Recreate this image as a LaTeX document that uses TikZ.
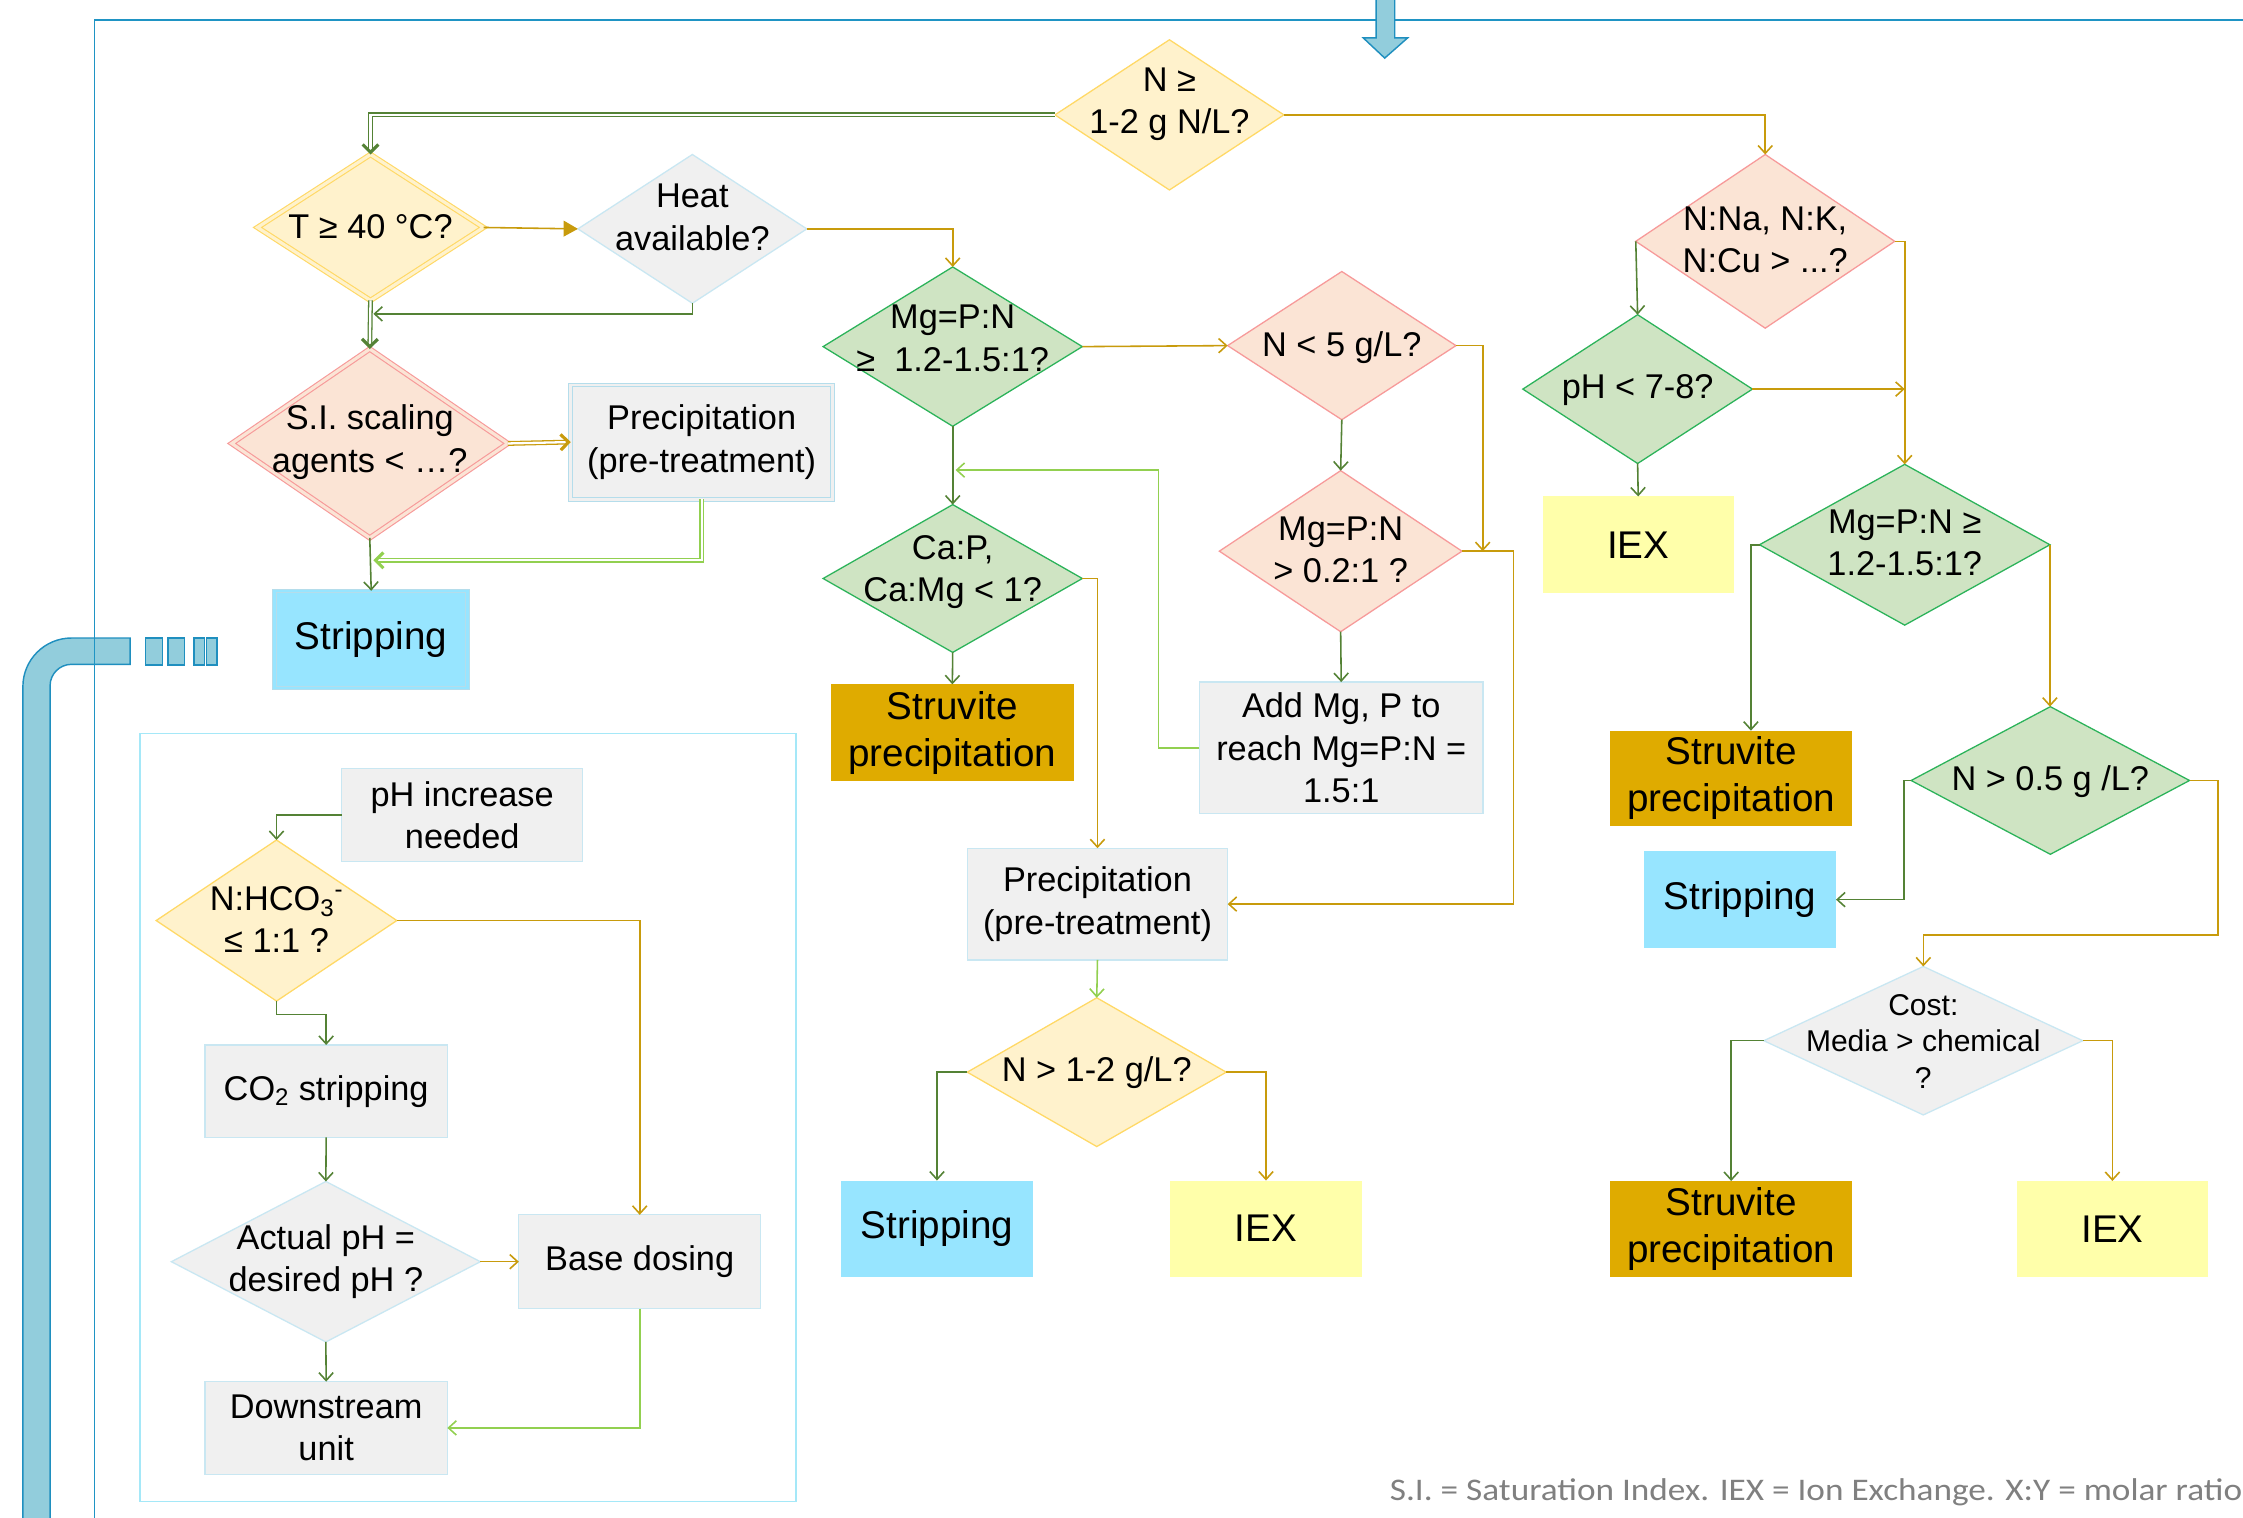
\documentclass[tikz,border=0pt]{standalone}
\usepackage{fontspec}
\setmainfont{Liberation Sans}
\newfontfamily\calfont[FakeStretch=1.12]{Carlito}
\usetikzlibrary{shapes.geometric,arrows.meta,calc}
\definecolor{framec}{HTML}{1F94C4}
\definecolor{pipef}{HTML}{92CDDC}
\definecolor{pipel}{HTML}{1F8FBF}
\definecolor{yelf}{HTML}{FFF2CC}
\definecolor{yell}{HTML}{FFD966}
\definecolor{pinkf}{HTML}{FBE4D5}
\definecolor{pinkl}{HTML}{F79A9A}
\definecolor{grnf}{HTML}{CFE4C3}
\definecolor{grnl}{HTML}{2CB35A}
\definecolor{grayf}{HTML}{F0F0F0}
\definecolor{grayl}{HTML}{C9E7F2}
\definecolor{dbll}{HTML}{B5DDEB}
\definecolor{stripf}{HTML}{97E5FF}
\definecolor{iexf}{HTML}{FFFFAA}
\definecolor{struvf}{HTML}{DFAB00}
\definecolor{cdg}{HTML}{548235}
\definecolor{cgold}{HTML}{C89B0C}
\definecolor{clg}{HTML}{92D050}
\definecolor{insetl}{HTML}{A5E8F8}
\definecolor{footc}{HTML}{808080}
\newcommand\fsz[2]{\fontsize{#1}{#2}\selectfont}
\begin{document}
\begin{tikzpicture}[x=1pt,y=-1pt,
  every node/.style={inner sep=0pt,outer sep=0pt},
  dia/.style={diamond,draw,line width=0.9pt},
  dt/.style={align=center,font=\fsz{24}{29.5}},
  box/.style={rectangle,draw=grayl,fill=grayf,line width=0.8pt,align=center,font=\fsz{24}{29.5}},
  term/.style={rectangle,align=center,font=\fsz{27}{33}},
  stripbox/.style={term,fill=stripf},
  iexbox/.style={term,fill=iexf},
  struvbox/.style={term,fill=struvf},
  cn/.style={line width=1.1pt,-{Straight Barb[length=5.5pt,width=10pt]}},
  dg/.style={cn,draw=cdg},
  go/.style={cn,draw=cgold},
  lg/.style={cn,draw=clg},
  dbl/.style={line width=0.9pt,double=white,double distance=1.6pt,-{Straight Barb[length=5.5pt,width=11pt,line width=2.2pt]}}
]
\useasboundingbox (0,0) rectangle (1568,1061);
\fill[white] (0,0) rectangle (1568,1061);

% pipe decoration
\filldraw[fill=pipef,draw=pipel,line width=1pt] (16,1070) [rounded corners=34]-- (16,446) [sharp corners]-- (91,446) -- (91,464.4) [rounded corners=15]-- (35,464.4) [sharp corners]-- (35,1070) -- cycle;
\filldraw[fill=pipef,draw=pipel,line width=1pt] (101.6,446) rectangle (113.7,465);
\filldraw[fill=pipef,draw=pipel,line width=1pt] (117.5,446) rectangle (128.9,465);
\filldraw[fill=pipef,draw=pipel,line width=1pt] (135.5,446) rectangle (142.8,465);
\filldraw[fill=pipef,draw=pipel,line width=1pt] (144.5,446) rectangle (151.7,465);

% frame
\draw[framec,line width=1pt] (1570,14) -- (66,14) -- (66,1070);
\filldraw[fill=pipef,draw=pipel,line width=1pt] (962,-3) -- (962,26.5) -- (953,26.5) -- (968,40.6) -- (984,26.5) -- (975,26.5) -- (975,-3) -- cycle;

% inset frame
\node[draw=insetl,line width=0.9pt,minimum width=458.6,minimum height=537] (inset) at (327.1,781.2) {};

% diamonds
\node[dia,fill=yelf,draw=yell,minimum width=160,minimum height=105] (n1) at (817.5,80.3) {};
\node[dt] (n1t) at (817.5,73) {N ≥\\1-2 g N/L?};

\node[dia,fill=yelf,draw=yell,double=yelf,double distance=2.2pt,line width=0.8pt,minimum width=158,minimum height=102] (t40) at (259,159) {};
\node[dt] (t40t) at (259,158.5) {T ≥ 40 °C?};

\node[dia,fill=grayf,draw=grayl,minimum width=160,minimum height=104] (heat) at (484,160) {};
\node[dt] (heatt) at (484,152) {Heat\\available?};

\node[dia,fill=pinkf,draw=pinkl,double=pinkf,double distance=2.2pt,line width=0.8pt,minimum width=193,minimum height=132] (si) at (258.5,310) {};
\node[dt] (sit) at (258.5,309) {S.I. scaling\\agents < …?};

\node[dia,fill=grnf,draw=grnl,minimum width=181.2,minimum height=111.4] (mg1) at (666,242.3) {};
\node[dt] (mg1t) at (666,236.5) {Mg=P:N\\≥\ \ 1.2-1.5:1?};

\node[dia,fill=pinkf,draw=pinkl,minimum width=159.6,minimum height=103.6] (n5) at (938,241.6) {};
\node[dt] (n5t) at (938,243) {N < 5 g/L?};

\node[dia,fill=pinkf,draw=pinkl,minimum width=169.6,minimum height=112.6] (mg2) at (937.2,385.3) {};
\node[dt] (mg2t) at (937.2,384.5) {Mg=P:N\\> 0.2:1 ?};

\node[dia,fill=grnf,draw=grnl,minimum width=181.2,minimum height=103.3] (ca) at (666,404.4) {};
\node[dt] (cat) at (666,400) {Ca:P,\\Ca:Mg < 1?};

\node[dia,fill=yelf,draw=yell,minimum width=181,minimum height=104] (n12) at (766.7,749.5) {};
\node[dt] (n12t) at (766.7,749.5) {N > 1-2 g/L?};

\node[dia,fill=pinkf,draw=pinkl,minimum width=181,minimum height=121.4] (nna) at (1234,168.7) {};
\node[dt] (nnat) at (1234,167.5) {N:Na, N:K,\\N:Cu > ...?};

\node[dia,fill=grnf,draw=grnl,minimum width=160.5,minimum height=104] (ph) at (1144.8,272) {};
\node[dt] (pht) at (1144.8,273) {pH < 7-8?};

\node[dia,fill=grnf,draw=grnl,minimum width=203,minimum height=112.4] (mg3) at (1331.5,380.8) {};
\node[dt] (mg3t) at (1331.5,379.5) {Mg=P:N ≥\\1.2-1.5:1?};

\node[dia,fill=grnf,draw=grnl,minimum width=194.6,minimum height=103.2] (n05) at (1433.3,545.6) {};
\node[dt] (n05t) at (1433.3,546.5) {N > 0.5 g /L?};

\node[dia,fill=grayf,draw=grayl,minimum width=223,minimum height=103.8] (cost) at (1344.5,727.5) {};
\node[dt,font=\fsz{21}{25.5}] (costt) at (1344.5,728) {Cost:\\Media > chemical\\?};

\node[dia,fill=yelf,draw=yell,minimum width=168.2,minimum height=112.6] (nh) at (193.3,643.5) {};
\node[dt] (nht) at (193.3,643) {N:HCO\textsubscript{3}\textsuperscript{-}\\≤ 1:1 ?};

\node[dia,fill=grayf,draw=grayl,minimum width=216,minimum height=112.2] (actual) at (227.8,882) {};
\node[dt] (actualt) at (227.8,882) {Actual pH =\\desired pH ?};

% boxes
\node[box,draw=dbll,double=grayf,double distance=1.8pt,line width=0.7pt,minimum width=183,minimum height=80] (pre1) at (490.5,309) {Precipitation\\(pre-treatment)};
\node[stripbox,draw=dbll,double=stripf,double distance=1.8pt,line width=0.7pt,minimum width=135,minimum height=68] (strip1) at (259.5,447) {Stripping};
\node[struvbox,minimum width=169.5,minimum height=67.6] (struv1) at (665.75,512.2) {Struvite\\precipitation};
\node[box,minimum width=198.2,minimum height=91.8] (addmg) at (937.6,522.7) {Add Mg, P to\\reach Mg=P:N =\\1.5:1};
\node[box,minimum width=182,minimum height=78.1] (pre2) at (767.2,632) {Precipitation\\(pre-treatment)};
\node[stripbox,minimum width=134.1,minimum height=67.3] (strip2) at (655,858.9) {Stripping};
\node[iexbox,minimum width=134,minimum height=67.3] (iex2) at (885,858.9) {IEX};
\node[iexbox,minimum width=133.6,minimum height=67.5] (iex1) at (1145.2,380.8) {IEX};
\node[struvbox,minimum width=169.3,minimum height=66.6] (struv2) at (1210.2,544.1) {Struvite\\precipitation};
\node[stripbox,minimum width=134.2,minimum height=67.4] (strip3) at (1216.4,628.9) {Stripping};
\node[struvbox,minimum width=169.3,minimum height=66.8] (struv3) at (1210.2,859) {Struvite\\precipitation};
\node[iexbox,minimum width=133.9,minimum height=66.8] (iex3) at (1476.7,859) {IEX};

\node[box,minimum width=168.6,minimum height=65.1] (phinc) at (323.1,569.9) {pH increase\\needed};
\node[box,minimum width=169.4,minimum height=64.6] (co2) at (228,762.8) {CO\textsubscript{2} stripping};
\node[box,minimum width=169,minimum height=65.5] (base) at (447.2,882) {Base dosing};
\node[box,minimum width=169.4,minimum height=64.7] (down) at (228,998.2) {Downstream\\unit};

% connectors
\coordinate (j1) at (261,219.4);
\coordinate (j2) at (261,391.7);
\coordinate (j3) at (1036.5,385.3);
\coordinate (j4) at (668,328.6);
\coordinate (c1) at (1224,0);
\coordinate (c2) at (1550.5,653.7);

\draw[dg,dbl] (n1.west) -| (t40.north);
\draw[go] (n1.east) -| (nna.north);
\draw[line width=1.1pt,draw=cgold,-{Triangle[length=10pt,width=11pt]}] (t40.east) -- (heat.west);
\draw[go] (heat.east) -| (mg1.north);
\draw[dg] (heat.south) |- (j1);
\draw[dg,dbl] (t40.south) -- (si.north);
\draw[go,dbl] (si.east) -- (pre1.west);
\draw[lg,dbl] (pre1.south) |- (j2);
\draw[dg] (si.south) -- (strip1.north);

\draw[go] (mg1.east) -- (n5.west);
\draw[go] (n5.east) -| (j3);
\draw[dg] (n5.south) -- (mg2.north);
\draw[go] (mg2.east) -- ++(36,0) |- (pre2.east);
\draw[dg] (mg2.south) -- (addmg.north);
\draw[lg] (addmg.west) -- ++(-28.7,0) |- (j4);
\draw[dg] (mg1.south) -- (ca.north);
\draw[dg] (ca.south) -- (struv1.north);
\draw[go] (ca.east) -| (pre2.north);
\draw[lg] (pre2.south) -- (n12.north);
\draw[dg] (n12.west) -| (strip2.north);
\draw[go] (n12.east) -| (iex2.north);

\draw[dg] (nna.west) -- (ph.north);
\draw[go] (nna.east) -| (mg3.north);
\draw[go] (ph.east) -- (ph.east -| mg3.north);
\draw[dg] (ph.south) -- (iex1.north);
\draw[dg] (mg3.west) -- ++(-6,0) -- (struv2.north -| c1);
\draw[go] (mg3.east) -- (mg3.east |- n05.north);
\draw[dg] (n05.west) -- ++(-5,0) |- (strip3.east);
\draw[go] (n05.east) -| (c2) -| (cost.north);
\draw[dg] (cost.west) -| (struv3.north);
\draw[go] (cost.east) -| (iex3.north);

\draw[dg] (phinc.west) -| (nh.north);
\draw[go] (nh.east) -| (base.north);
\draw[dg] (nh.south) -- ++(0,9.5) -| (co2.north);
\draw[dg] (co2.south) -- (actual.north);
\draw[go] (actual.east) -- (base.west);
\draw[dg] (actual.south) -- (down.north);
\draw[lg] (base.south) |- (down.east);

% footer
\node[anchor=base east,font=\calfont\fsz{22}{26},text=footc] (foot) at (1567.5,1049) {S.I. = Saturation Index. IEX = Ion Exchange. X:Y = molar ratio};
\end{tikzpicture}
\end{document}
